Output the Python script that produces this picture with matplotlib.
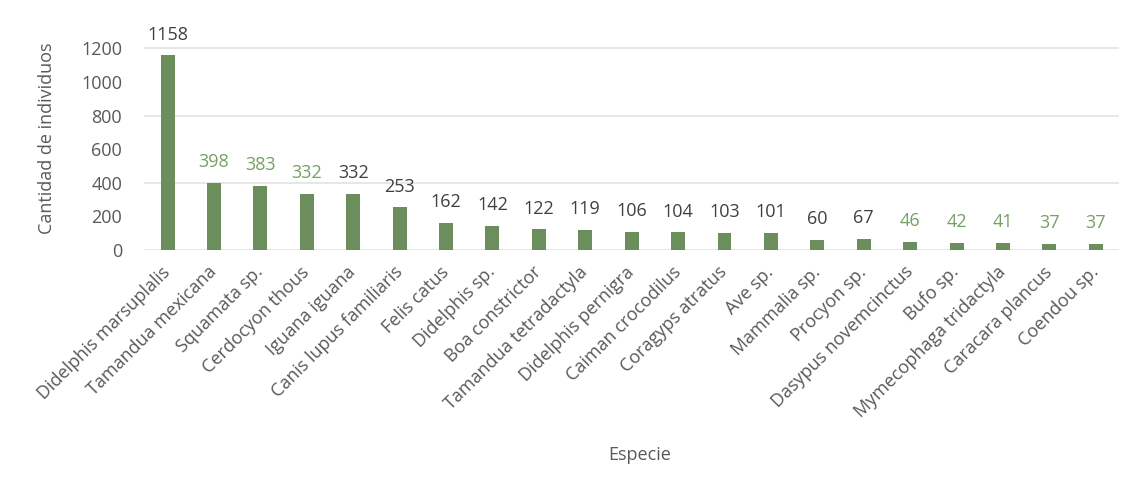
import numpy as np
import matplotlib
matplotlib.use("Agg")
from matplotlib import pyplot as plt

species = ["Didelphis marsuplalis", "Tamandua mexicana", "Squamata sp.", "Cerdocyon thous",
           "Iguana iguana", "Canis lupus familiaris", "Felis catus", "Didelphis sp.",
           "Boa constrictor", "Tamandua tetradactyla", "Didelphis pernigra", "Caiman crocodilus",
           "Coragyps atratus", "Ave sp.", "Mammalia sp.", "Procyon sp.", "Dasypus novemcinctus",
           "Bufo sp.", "Mymecophaga tridactyla", "Caracara plancus", "Coendou sp."]
counts = [1158, 398, 383, 332, 332, 253, 162, 142, 122, 119, 106, 104, 103, 101,
          60, 67, 46, 42, 41, 37, 37]
# labels drawn in green (others dark grey)
green_labels = [1, 2, 3, 16, 17, 18, 19, 20]

bar_col = "#6b8e5c"
green_txt = "#76a064"
dark_txt = "#404040"
grey_txt = "#595959"

plt.rcParams['font.family'] = ['Open Sans', 'DejaVu Sans']

fig = plt.figure(figsize=(11.28, 4.91), dpi=100)
ax = fig.add_axes([0.128, 0.491, 0.864, 0.455])

x = np.arange(len(species))
ax.bar(x, counts, width=0.3, color=bar_col, zorder=3)

for i, v in enumerate(counts):
    c = green_txt if i in green_labels else dark_txt
    ax.text(i, v + 70, str(v), ha='center', va='bottom', fontsize=13, color=c)

ax.set_xlim(-0.5, len(species) - 0.5)
ax.set_ylim(0, 1330)
ax.set_yticks(np.arange(0, 1201, 200))
for g in [0, 400, 800, 1200]:
    ax.axhline(g, color="#e3e3e3", lw=1.2, zorder=1)

ax.set_xticks(x)
ax.set_xticklabels(species, rotation=45, ha='right', va='center', rotation_mode='anchor',
                   fontsize=13, color=grey_txt)
ax.tick_params(axis='y', labelsize=13, labelcolor=grey_txt, length=0, pad=16)
ax.tick_params(axis='x', length=0, pad=14)
for s in ax.spines.values():
    s.set_visible(False)

ax.set_ylabel("Cantidad de individuos", fontsize=13, color=grey_txt, labelpad=18)
fig.text(0.567, 0.073, "Especie", ha='center', va='center', fontsize=13, color=grey_txt)

fig.savefig("out.png", dpi=100, facecolor="white")
